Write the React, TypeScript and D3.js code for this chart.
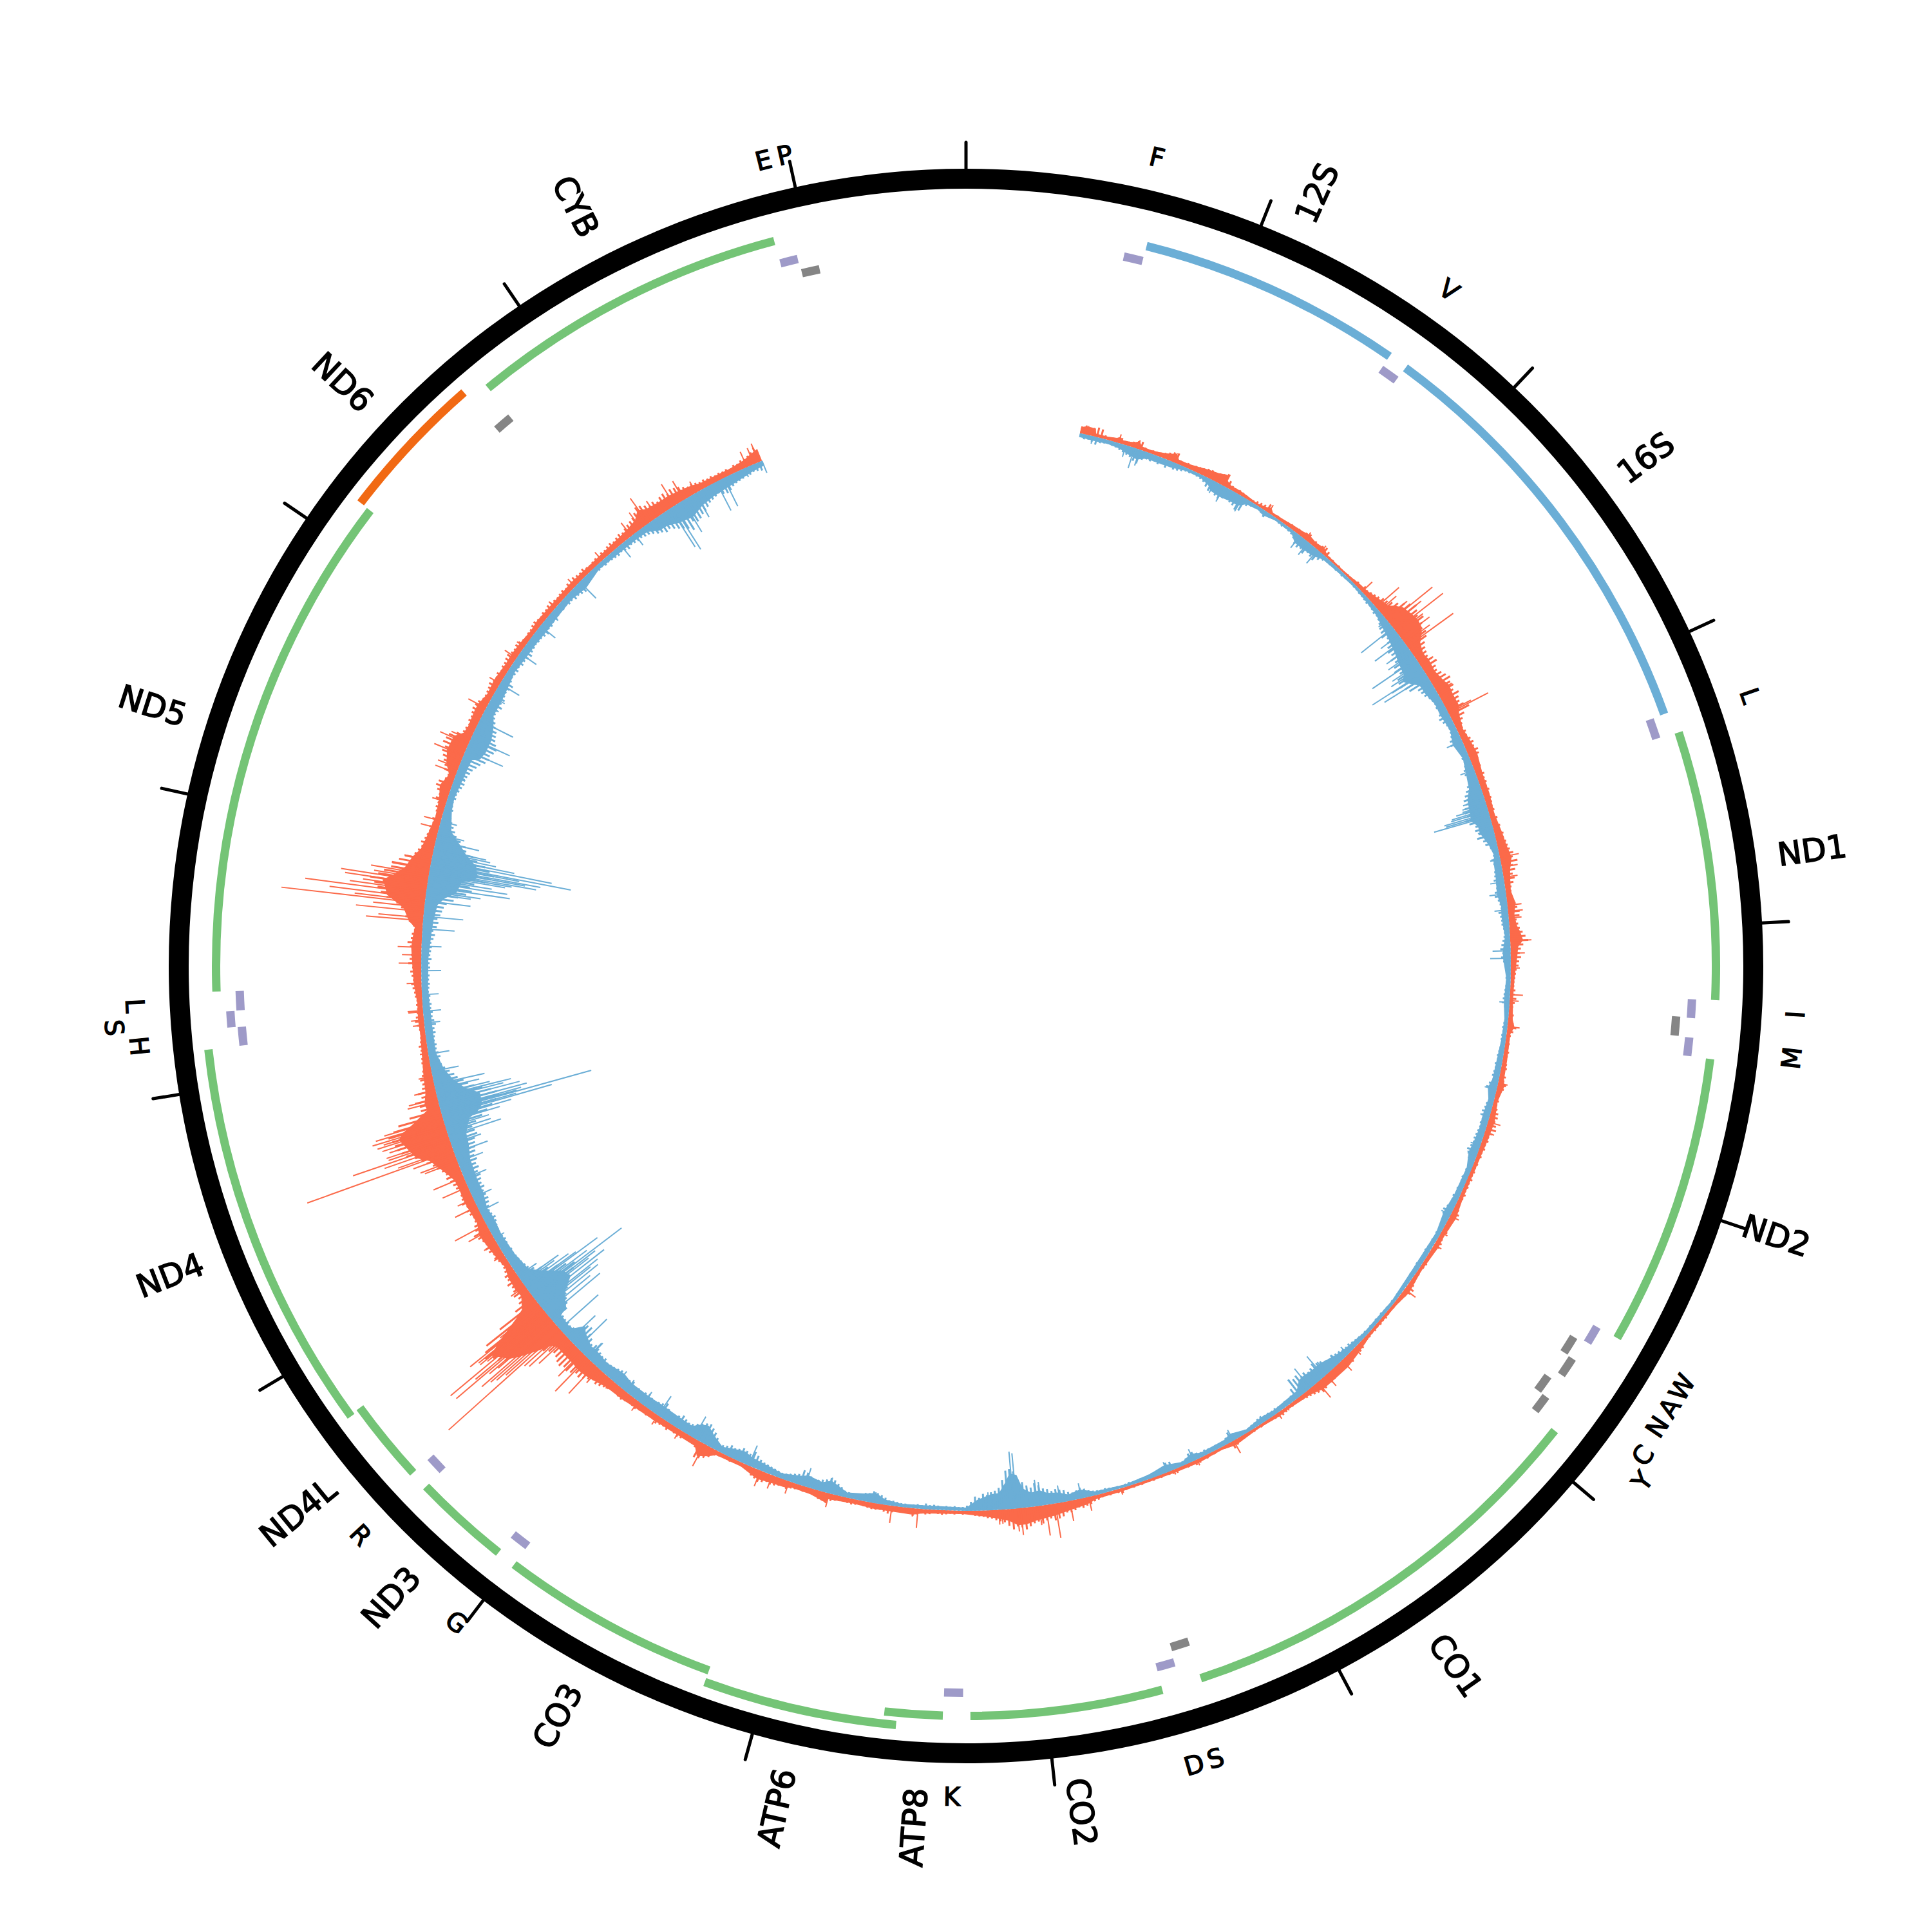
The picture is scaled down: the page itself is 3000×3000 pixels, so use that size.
import React from "react";
import * as d3 from "d3";

const GENOME = 16569;
const SIZE = 3000;
const CX = 1500;
const CY = 1500;

const tickPositions = d3.range(0, 17).map(d => d * 1000);

// name, start, end
const proteinGenes = [
  ["ND1", 3307, 4262], ["ND2", 4470, 5511], ["CO1", 5904, 7445], ["CO2", 7586, 8269],
  ["ATP8", 8366, 8572], ["CO3", 9207, 9990], ["ND3", 10059, 10404], ["ND4L", 10470, 10766],
  ["ND5", 12337, 14148], ["CYB", 14747, 15887],
];
const shiftedGenes = [["ATP6", 8527, 9207], ["ND4", 10760, 12137]];
const antisenseGenes = [["ND6", 14149, 14673]];
const rrnaGenes = [["12S", 648, 1601], ["16S", 1671, 3229]];

// tRNA name, start, end, inner radius
const purpleTrnas = [
  ["F", 577, 647, 1122], ["V", 1602, 1670, 1122], ["L", 3230, 3304, 1122], ["I", 4263, 4331, 1122],
  ["M", 4402, 4469, 1122], ["W", 5512, 5579, 1122], ["D", 7518, 7585, 1122], ["K", 8295, 8364, 1122],
  ["G", 9991, 10058, 1122], ["R", 10405, 10469, 1122], ["H", 12138, 12206, 1122],
  ["S", 12207, 12265, 1138], ["L", 12266, 12336, 1122], ["E", 15888, 15953, 1122],
];
const grayTrnas = [
  ["Q", 4329, 4400, 1099], ["A", 5587, 5655, 1099], ["N", 5657, 5729, 1115], ["C", 5761, 5826, 1099],
  ["Y", 5826, 5891, 1115], ["S", 7445, 7514, 1098], ["E", 14674, 14742, 1100], ["P", 15956, 16023, 1099],
];
// name, position, radius
const trnaLabels = [
  ["F", 612, 1290], ["V", 1636, 1290], ["L", 3267, 1288], ["I", 4297, 1290], ["M", 4435, 1290], ["W", 5545, 1290],
  ["A", 5621, 1290], ["N", 5693, 1290], ["C", 5793, 1297], ["Y", 5858, 1320], ["S", 7480, 1290], ["D", 7551, 1290],
  ["K", 8330, 1290], ["G", 10025, 1290], ["R", 10437, 1290], ["H", 12172, 1290], ["S", 12236, 1326],
  ["L", 12301, 1292], ["E", 15920, 1290], ["P", 15989, 1290],
];

// orange strand, filled body [position, height]
const forwardBody = [
  [556,10],[575,12],[600,13],[626,12],[632,5],[690,5],[735,7],[749,10],[765,6],[800,7],[825,9],[844,12],[860,6],[900,5],[939,6],[985,9],[1031,14],[1050,7],[1100,7],[1150,9],[1200,12],[1250,14],[1290,18],[1305,10],[1330,6],[1380,6],[1415,5],[1480,3],[1530,6],[1551,9],[1570,4],[1636,5],[1700,7],[1740,8],[1772,10],[1820,7],[1868,9],[1900,4],[2000,3],[2060,4],[2110,6],[2160,7],[2200,10],[2250,14],[2280,16],[2300,24],[2330,32],[2380,36],[2420,38],[2453,36],[2480,30],[2510,20],[2560,14],[2600,16],[2660,14],[2720,18],[2752,22],[2800,20],[2860,20],[2895,14],[2968,9],[3040,12],[3100,14],[3200,10],[3300,10],[3400,8],[3500,12],[3560,14],[3622,18],[3680,12],[3720,10],[3780,8],[3840,13],[3900,9],[3950,12],[3977,16],[4020,20],[4050,12],[4100,10],[4200,6],[4300,5],[4400,7],[4436,11],[4470,6],[4600,7],[4700,8],[4720,11],[4800,6],[4900,10],[5000,8],[5100,6],[5300,6],[5398,10],[5500,7],[5558,8],[5700,5],[5817,9],[5900,5],[6100,5],[6192,10],[6276,14],[6379,14],[6434,14],[6500,8],[6626,5],[6678,6],[6800,4],[6931,8],[7000,4],[7130,6],[7253,5],[7400,4],[7525,5],[7650,6],[7700,11],[7779,14],[7850,18],[7900,20],[7950,22],[8000,26],[8040,26],[8080,18],[8125,14],[8200,9],[8300,5],[8450,6],[8500,7],[8541,10],[8644,9],[8730,9],[8830,7],[8950,9],[8965,15],[9040,9],[9135,8],[9160,11],[9243,12],[9304,14],[9330,12],[9400,6],[9530,7],[9560,14],[9610,22],[9640,10],[9742,9],[9869,10],[9985,11],[10050,13],[10147,14],[10200,18],[10254,22],[10300,24],[10341,22],[10400,22],[10443,22],[10470,26],[10499,50],[10530,75],[10554,90],[10590,100],[10614,108],[10640,85],[10660,58],[10675,40],[10690,26],[10743,14],[10771,16],[10849,14],[10900,9],[10954,12],[11020,15],[11092,18],[11150,12],[11263,15],[11327,14],[11377,15],[11410,20],[11460,30],[11506,40],[11539,58],[11600,68],[11640,75],[11664,68],[11691,48],[11737,20],[11765,22],[11820,16],[11889,14],[12003,10],[12100,8],[12165,9],[12250,8],[12344,12],[12440,14],[12517,16],[12570,14],[12611,12],[12640,22],[12698,32],[12750,60],[12790,65],[12814,70],[12850,52],[12890,38],[12942,30],[12984,20],[13050,15],[13150,10],[13233,12],[13300,18],[13362,10],[13408,20],[13468,27],[13540,26],[13573,14],[13610,12],[13690,14],[13726,14],[13790,9],[13863,11],[13960,9],[14010,10],[14076,9],[14160,7],[14210,9],[14320,8],[14400,8],[14460,9],[14520,8],[14641,8],[14770,10],[14825,12],[14884,16],[14921,26],[14960,20],[15028,18],[15082,18],[15134,16],[15202,13],[15240,10],[15400,9],[15478,12],[15515,16],[15557,20],
];

// orange strand, single spikes [position, height]
const forwardSpikes = [
  [590,14],[749,14],[844,14],[1031,15],[1295,20],[1551,14],[1772,14],[1868,13],[2145,22],[2218,14],[2248,47],[2270,35],[2320,43],[2343,87],[2360,60],[2393,94],[2410,50],[2440,55],[2470,48],[2490,88],[2600,24],[2752,27],[2864,40],[2871,69],[3100,17],[3613,30],[3662,25],[3712,22],[3848,22],[3877,23],[3910,20],[4020,33],[4080,22],[4152,14],[4281,20],[4310,14],[4436,19],[4713,15],[4907,20],[4960,15],[5398,15],[5490,11],[5558,13],[5817,21],[6192,14],[6276,22],[6379,23],[6434,31],[6626,7],[6678,11],[6931,22],[7130,10],[7253,8],[7525,10],[7686,22],[7779,32],[7851,54],[7897,48],[7929,30],[8019,42],[8036,36],[8110,22],[8125,23],[8517,30],[8541,13],[8644,27],[8954,22],[9156,20],[9243,22],[9304,26],[9604,39],[9742,16],[9869,17],[9985,18],[10147,16],[10232,29],[10259,60],[10310,72],[10347,52],[10402,34],[10450,60],[10470,74],[10486,79],[10499,233],[10510,110],[10520,126],[10530,135],[10540,150],[10554,112],[10560,128],[10571,192],[10580,150],[10594,196],[10606,118],[10614,130],[10624,130],[10634,144],[10638,98],[10650,80],[10660,66],[10683,28],[10771,27],[10954,18],[11020,23],[11092,37],[11125,55],[11221,38],[11263,27],[11326,43],[11377,51],[11460,54],[11470,60],[11499,68],[11516,241],[11525,90],[11543,110],[11557,160],[11570,100],[11581,102],[11600,95],[11615,105],[11631,111],[11640,100],[11650,117],[11665,110],[11677,95],[11765,49],[11778,46],[11820,34],[11889,22],[12003,13],[12140,18],[12165,20],[12205,23],[12211,24],[12344,23],[12440,35],[12480,30],[12517,37],[12646,89],[12660,70],[12690,106],[12710,80],[12729,224],[12740,110],[12755,150],[12775,189],[12790,120],[12805,100],[12821,129],[12835,136],[12850,85],[12870,91],[12897,59],[12942,43],[13100,29],[13137,27],[13233,23],[13381,35],[13408,34],[13472,49],[13532,48],[13555,32],[13726,31],[13863,19],[14010,22],[14076,14],[14320,14],[14460,16],[14641,17],[14825,26],[14884,31],[14927,48],[14981,30],[15082,39],[15134,34],[15202,20],[15478,26],[15515,27],[15540,31],
];

// blue strand, filled body [position, height]
const reverseBody = [
  [556,6],[620,7],[700,6],[760,8],[800,12],[857,16],[900,10],[960,10],[1031,9],[1100,5],[1180,5],[1230,10],[1252,16],[1302,18],[1360,16],[1407,16],[1440,7],[1500,5],[1537,8],[1600,4],[1700,5],[1741,14],[1792,14],[1851,12],[1900,6],[2000,5],[2100,4],[2200,6],[2280,8],[2329,12],[2400,16],[2484,22],[2530,26],[2600,30],[2618,38],[2660,26],[2682,18],[2734,17],[2800,12],[2857,13],[2950,10],[3019,16],[3100,10],[3170,14],[3250,18],[3300,26],[3352,28],[3406,30],[3440,22],[3475,22],[3540,13],[3600,8],[3622,11],[3700,12],[3790,14],[3850,10],[3900,11],[4000,8],[4068,12],[4105,12],[4200,7],[4319,9],[4400,6],[4500,7],[4600,9],[4700,10],[4745,14],[4800,9],[4880,11],[4950,10],[5028,12],[5074,14],[5150,8],[5300,9],[5394,12],[5500,7],[5700,8],[5900,5],[6100,6],[6235,10],[6296,14],[6371,20],[6421,20],[6480,22],[6503,20],[6540,10],[6690,7],[6760,9],[6850,5],[6931,12],[6970,8],[7100,7],[7147,12],[7200,6],[7287,12],[7370,7],[7500,4],[7650,6],[7721,14],[7780,10],[7825,16],[7880,18],[7918,24],[7960,22],[8000,30],[8024,52],[8060,55],[8086,41],[8120,26],[8157,25],[8228,17],[8283,5],[8483,6],[8600,5],[8680,8],[8731,16],[8780,12],[8870,8],[8957,20],[9000,14],[9074,18],[9110,14],[9200,8],[9367,14],[9410,18],[9470,14],[9520,9],[9578,18],[9630,28],[9665,24],[9700,15],[9776,16],[9884,17],[9960,16],[10066,16],[10122,20],[10222,15],[10300,18],[10337,17],[10400,25],[10430,32],[10462,16],[10485,14],[10550,16],[10565,30],[10623,42],[10674,66],[10720,62],[10783,36],[10830,20],[10927,15],[11046,13],[11139,15],[11194,13],[11268,18],[11340,18],[11450,20],[11520,26],[11580,28],[11645,40],[11664,55],[11696,65],[11755,66],[11800,45],[11856,30],[11913,20],[12000,12],[12100,12],[12240,11],[12320,10],[12460,11],[12570,14],[12650,16],[12730,20],[12767,30],[12800,46],[12835,50],[12860,52],[12880,70],[12900,75],[12955,70],[13000,52],[13040,40],[13100,20],[13200,12],[13260,10],[13365,13],[13430,14],[13468,15],[13486,26],[13530,30],[13598,30],[13660,24],[13711,16],[13790,16],[13863,14],[13950,10],[14040,12],[14120,12],[14204,13],[14280,12],[14400,10],[14490,14],[14600,7],[14757,9],[14843,9],[14900,10],[14950,19],[15000,20],[15051,26],[15127,30],[15148,28],[15198,22],[15270,18],[15380,15],[15490,10],[15557,8],
];

// blue strand, single spikes [position, height]
const reverseSpikes = [
  [620,12],[786,19],[830,33],[857,26],[1252,20],[1302,27],[1407,26],[1537,10],[1741,24],[1792,25],[1851,27],[2329,17],[2375,63],[2420,35],[2453,54],[2500,42],[2530,45],[2563,82],[2590,50],[2610,56],[2637,96],[2640,60],[2660,78],[3019,26],[3170,23],[3320,35],[3340,38],[3352,39],[3360,50],[3372,58],[3380,60],[3391,72],[3400,70],[3408,90],[3475,25],[3622,16],[3733,22],[3791,26],[3870,21],[4068,28],[4105,32],[4319,16],[4745,19],[4880,15],[5028,16],[5074,16],[5394,16],[6235,16],[6296,16],[6371,24],[6392,41],[6480,39],[6931,19],[7147,20],[7287,17],[7721,24],[7825,27],[7918,37],[7936,41],[8037,86],[8052,89],[8157,25],[8175,28],[8731,17],[8957,25],[9074,30],[9367,34],[9442,16],[9665,38],[9869,36],[9960,24],[10066,22],[10122,25],[10306,33],[10310,32],[10378,64],[10433,55],[10503,80],[10586,104],[10610,90],[10630,110],[10646,99],[10655,115],[10674,132],[10690,105],[10700,120],[10712,174],[10730,110],[10752,135],[10760,95],[10775,84],[10790,60],[10800,70],[10830,35],[11046,18],[11194,33],[11268,32],[11369,37],[11456,42],[11502,55],[11548,49],[11589,86],[11608,71],[11630,70],[11655,90],[11675,110],[11692,177],[11700,120],[11711,242],[11716,122],[11725,130],[11740,140],[11760,130],[11775,105],[11787,118],[11800,85],[11825,70],[11848,80],[11913,43],[11998,33],[12150,25],[12207,28],[12288,26],[12404,31],[12523,31],[12607,50],[12668,62],[12743,71],[12780,70],[12790,85],[12813,130],[12835,125],[12850,100],[12870,120],[12880,130],[12889,168],[12900,150],[12908,174],[12920,140],[12928,221],[12946,190],[12960,130],[12975,100],[12990,90],[13000,83],[13040,69],[13071,43],[13137,26],[13365,16],[13500,63],[13565,66],[13660,58],[13740,20],[13790,22],[13863,35],[14040,31],[14204,30],[14280,16],[14490,36],[14757,25],[14843,22],[15056,71],[15074,79],[15127,57],[15198,43],[15313,50],[15354,49],[15465,15],[15557,20],
];

const forwardFine = [
  11,14,12,13,15,14,6,5,6,7, 9,6,7,9,12,13,6,5,6,6, 7,9,12,15,16,7,6,8,7,9, 10,11,13,14,13,15,17,20,12,7, 6,7,6,5,4,4,6,7,8,13,
  5,4,5,4,5,6,7,6,8,7, 10,12,8,9,7,10,12,9,4,4, 3,4,3,3,4,4,5,7,6,10, 8,10,12,14,18,20,24,30,38,44, 50,46,42,48,40,36,38,34,26,22,
  20,18,22,26,20,18,22,26,30,26, 28,24,30,26,24,28,34,22,16,12, 10,12,11,14,16,14,18,16,13,10, 12,10,13,11,12,10,12,9,11,10, 9,10,8,11,9,12,10,14,13,15,
  16,18,22,20,26,18,20,15,17,14, 10,9,8,10,13,15,18,17,12,14, 16,20,24,28,20,16,14,16,13,12, 9,8,7,6,6,8,7,10,8,6, 6,8,7,9,14,10,7,6,7,6,
  8,7,6,8,9,7,10,9,13,11, 7,6,8,7,9,12,13,11,14,16, 12,9,10,8,9,7,8,6,7,6, 7,6,8,6,7,6,8,7,6,7, 9,12,10,8,7,8,9,7,8,10,
  9,7,6,5,6,7,6,5,6,5, 7,9,13,12,8,6,6,5,5,4, 5,6,5,6,5,6,5,6,6,7, 10,11,9,10,14,12,10,9,11,13, 14,15,12,16,18,14,12,10,9,7,
  6,5,6,5,7,8,6,6,5,4, 4,5,4,5,4,5,6,7,9,12, 6,5,4,4,5,4,6,5,7,8, 5,6,4,5,7,6,5,4,5,4, 5,4,4,5,4,5,4,5,8,6,
  5,6,5,6,8,9,12,13,15,13, 16,18,17,22,24,26,22,24,28,24, 26,30,34,30,28,32,26,20,18,16, 13,12,10,9,8,6,5,6,5,6, 5,6,7,6,5,7,8,7,9,12,
  9,8,7,8,10,13,11,9,10,10, 9,8,7,8,9,8,7,8,9,11, 16,14,13,10,9,8,9,8,9,10, 13,11,12,14,15,13,16,18,15,13, 9,7,6,5,6,7,6,5,7,9,
  15,20,24,26,12,9,8,9,11,12, 10,9,12,10,11,13,10,9,11,10, 11,13,12,10,13,15,14,12,13,15, 17,20,22,20,24,28,32,30,35,38, 36,40,38,34,32,36,42,50,58,68,
  96,104,108,118,112,104,72,36,24,20, 24,20,18,22,17,18,14,12,11,13, 16,14,18,20,16,18,22,26,20,18, 14,13,16,18,15,20,17,16,14,18, 20,22,26,24,28,34,38,46,52,60,
  72,78,82,84,86,90,80,70,50,30, 30,36,24,28,20,18,20,16,14,12, 13,12,10,11,13,10,9,8,9,11, 14,12,10,9,10,9,11,12,14,16, 13,15,17,14,20,18,16,14,18,22,
  17,16,13,15,22,28,26,36,44,60, 70,76,82,90,78,70,60,60,50,42, 28,24,20,22,18,16,14,15,12,14, 10,12,14,13,18,15,20,24,22,14, 12,20,22,26,30,34,32,38,36,34,
  24,16,15,13,16,15,17,19,18,16, 12,11,12,13,15,12,11,13,10,12, 12,14,15,12,11,13,12,9,8,9, 9,11,12,10,9,11,10,12,11,10, 9,10,11,9,12,10,13,11,10,12,
  9,8,9,10,9,11,10,12,13,11, 13,15,13,16,18,20,22,26,32,30, 26,22,24,20,24,26,22,26,24,22, 18,15,16,14,12,13,11,12,10,11, 10,11,9,12,11,14,13,16,19,24,
];

const reverseFine = [
  6,8,7,9,12,8,7,6,7,8, 10,12,14,16,20,22,14,11,12,10, 12,10,13,9,11,10,8,6,6,5, 6,7,9,14,18,16,20,22,18,16, 18,20,24,22,10,7,6,5,7,10,
  6,5,4,5,6,5,6,7,10,16, 18,16,20,14,16,18,12,8,6,6, 5,6,5,6,5,4,4,5,5,6, 6,7,8,7,8,10,9,11,14,18, 20,24,18,22,26,30,28,34,30,36,
  40,34,42,44,46,40,36,24,22,20, 16,14,13,14,12,15,18,15,12,11, 12,14,18,20,13,11,10,12,11,13, 16,17,14,16,20,24,28,32,30,34, 36,34,38,34,26,28,24,28,20,18,
  12,9,10,14,12,11,13,14,16,13, 14,17,18,14,12,11,15,13,12,12, 10,9,10,12,14,16,13,15,12,9, 8,7,8,7,8,9,10,11,12,8, 7,6,6,7,8,7,8,8,7,8,
  9,10,9,11,10,11,12,10,14,17, 12,10,9,11,12,14,13,11,12,11, 12,13,14,13,15,18,15,12,9,8, 9,8,10,9,8,10,9,11,10,9, 12,15,13,10,9,8,7,8,7,8,
  7,8,9,8,7,8,9,8,7,8, 7,6,7,6,5,6,5,6,5,6, 6,7,6,7,6,7,6,7,7,8, 9,10,12,11,12,14,15,18,16,18, 22,24,28,24,22,26,24,30,28,32,
  18,10,8,9,7,8,9,8,9,9, 11,10,8,7,6,6,7,8,11,16, 10,8,7,8,7,8,9,8,10,14, 14,9,7,7,8,14,15,11,9,8, 8,7,6,6,5,5,6,5,4,5,
  5,6,7,6,7,8,10,14,17,14, 12,14,18,20,22,20,24,26,32,36, 30,34,40,44,58,62,60,46,34,30, 28,24,26,20,22,14,8,6,6,7, 6,7,6,7,8,7,9,6,7,6,
  5,6,6,7,8,8,11,14,16,18, 14,13,10,9,8,9,10,14,18,22, 24,20,18,16,15,18,22,24,16,14, 12,10,9,10,11,12,13,14,16,20, 24,18,20,22,18,16,18,14,12,11,
  18,24,28,32,30,26,22,18,17,19, 22,18,16,15,18,24,20,18,16,17, 20,18,16,17,15,20,18,16,18,22, 20,18,17,16,19,18,20,22,24,20, 26,30,38,36,20,18,16,18,17,18,
  30,36,40,44,52,56,66,78,84,72, 60,46,38,28,22,20,18,17,16,15, 16,14,15,16,14,13,14,15,17,19, 16,15,17,20,22,21,20,24,22,24, 26,24,28,26,30,28,32,34,36,38,
  44,42,40,48,60,70,80,88,94,92, 84,72,60,52,46,38,34,28,22,18, 16,18,16,14,15,13,14,16,15,18, 16,14,15,13,14,12,13,11,12,13, 12,13,11,14,13,16,14,15,16,15,
  18,20,17,22,24,22,26,28,30,34, 44,50,62,70,66,72,88,96,100,92, 84,70,62,50,48,38,30,26,22,18, 15,13,14,12,11,13,12,14,16,18, 17,18,20,22,26,30,36,40,38,42,
  44,40,36,34,32,28,24,20,18,18, 22,18,20,17,16,18,20,14,12,13, 14,12,15,14,16,18,15,14,13,14, 14,16,18,14,15,13,14,12,11,12, 11,13,12,15,14,16,18,13,10,9,
  8,7,9,8,10,9,10,11,12,10, 12,14,11,12,13,12,14,15,18,22, 24,28,26,30,34,38,42,48,36,40, 38,34,32,28,24,22,20,18,22,24, 22,18,16,15,14,12,13,11,12,14,
];

const FINE_START = 560;
const FINE_STEP = 20;

const theta = d3.scaleLinear().domain([0, GENOME]).range([0, 2 * Math.PI]);
// track heights run either side of the zero circle
const radial = d3.scaleLinear().domain([-300, 300]).range([546, 1146]);

const deg = (pos: number) => (pos / GENOME) * 360;

const polar = (pos: number, r: number) => {
  const a = theta(pos);
  return [CX + r * Math.sin(a), CY - r * Math.cos(a)];
};

const ring = d3.arc()({ innerRadius: 1207, outerRadius: 1238, startAngle: 0, endAngle: 2 * Math.PI }) as string;

const band = (start: number, end: number, inner: number, width = 13) =>
  d3.arc()({ innerRadius: inner, outerRadius: inner + width, startAngle: theta(start), endAngle: theta(end) }) as string;

const bodyArea = (sign: number) =>
  d3
    .areaRadial<number[]>()
    .angle(d => theta(d[0]))
    .innerRadius(radial(0))
    .outerRadius(d => radial(sign * d[1]));

const spikeLine = (pos: number, h: number) =>
  d3.lineRadial()([
    [theta(pos), radial(0)],
    [theta(pos), radial(h)],
  ]) as string;

const ORANGE = "#fb6a4a";
const BLUE = "#6baed6";

const GeneLabel = ({ name, pos }: { name: string; pos: number }) => {
  const a = deg(pos);
  // the rRNA labels sit a little closer in, ATP8 a little off centre
  const r = name.length > 3 ? 1340 : name.endsWith("S") ? 1318 : 1326;
  const [x, y] = polar(name === "ATP8" ? pos - 25 : pos, r);
  const rot = a < 180 ? a - 90 : a + 90;
  return (
    <text
      transform={`translate(${x} ${y}) rotate(${rot})`}
      textAnchor="middle"
      dominantBaseline="central"
      fontSize={50}
      fontFamily="DejaVu Sans"
      stroke="#000"
      strokeWidth={1.6}
    >
      {name}
    </text>
  );
};

const SmallLabel = ({ name, pos, r }: { name: string; pos: number; r: number }) => {
  const a = deg(pos);
  const [x, y] = polar(pos, r);
  const rot = a > 90 && a < 270 ? a - 180 : a;
  return (
    <text
      transform={`translate(${x} ${y}) rotate(${rot})`}
      textAnchor="middle"
      dominantBaseline="central"
      fontSize={40}
      fontFamily="DejaVu Sans"
      stroke="#000"
      strokeWidth={1.4}
    >
      {name}
    </text>
  );
};

const App = () => {
  const allGenes = [...proteinGenes, ...shiftedGenes, ...antisenseGenes, ...rrnaGenes] as [string, number, number][];
  return (
    <svg width={SIZE} height={SIZE} style={{ position: "absolute", left: 0, top: 0, background: "#fff" }}>
      <g transform={`translate(${CX} ${CY})`}>
        {tickPositions.map(t => {
          const a = theta(t);
          return (
            <line
              key={t}
              x1={1236 * Math.sin(a)}
              y1={-1236 * Math.cos(a)}
              x2={1279 * Math.sin(a)}
              y2={-1279 * Math.cos(a)}
              stroke="#000"
              strokeWidth={5}
              strokeLinecap="round"
            />
          );
        })}
        <path d={ring} fill="#000" />
        {proteinGenes.map(g => (
          <path key={g[0] as string} d={band(g[1] as number, g[2] as number, 1158)} fill="#74c476" />
        ))}
        {shiftedGenes.map(g => (
          <path key={g[0] as string} d={band(g[1] as number, g[2] as number, 1177)} fill="#74c476" />
        ))}
        {antisenseGenes.map(g => (
          <path key={g[0] as string} d={band(g[1] as number, g[2] as number, 1177)} fill="#f16913" />
        ))}
        {rrnaGenes.map(g => (
          <path key={g[0] as string} d={band(g[1] as number, g[2] as number, 1146)} fill={BLUE} />
        ))}
        {purpleTrnas.map((g, i) => (
          <path key={i} d={band(g[1] as number, g[2] as number, g[3] as number)} fill="#9e9ac8" />
        ))}
        {grayTrnas.map((g, i) => (
          <path key={i} d={band(g[1] as number, g[2] as number, g[3] as number)} fill="#858585" />
        ))}
        <path d={bodyArea(1)(forwardBody) as string} fill={ORANGE} />
        <path d={bodyArea(-1)(reverseBody) as string} fill={BLUE} />
        {forwardFine.map((h, i) => (
          <path key={i} d={spikeLine(FINE_START + i * FINE_STEP, h)} stroke={ORANGE} strokeWidth={3} fill="none" />
        ))}
        {reverseFine.map((h, i) => (
          <path key={i} d={spikeLine(FINE_START + i * FINE_STEP, -h)} stroke={BLUE} strokeWidth={3} fill="none" />
        ))}
        {forwardSpikes.map((s, i) => (
          <path key={i} d={spikeLine(s[0], s[1])} stroke={ORANGE} strokeWidth={2} fill="none" />
        ))}
        {reverseSpikes.map((s, i) => (
          <path key={i} d={spikeLine(s[0], -s[1])} stroke={BLUE} strokeWidth={2} fill="none" />
        ))}
      </g>
      {allGenes.map(g => (
        <GeneLabel key={g[0]} name={g[0]} pos={(g[1] + g[2]) / 2} />
      ))}
      {trnaLabels.map((l, i) => (
        <SmallLabel key={i} name={l[0] as string} pos={l[1] as number} r={l[2] as number} />
      ))}
    </svg>
  );
};

export default App;
